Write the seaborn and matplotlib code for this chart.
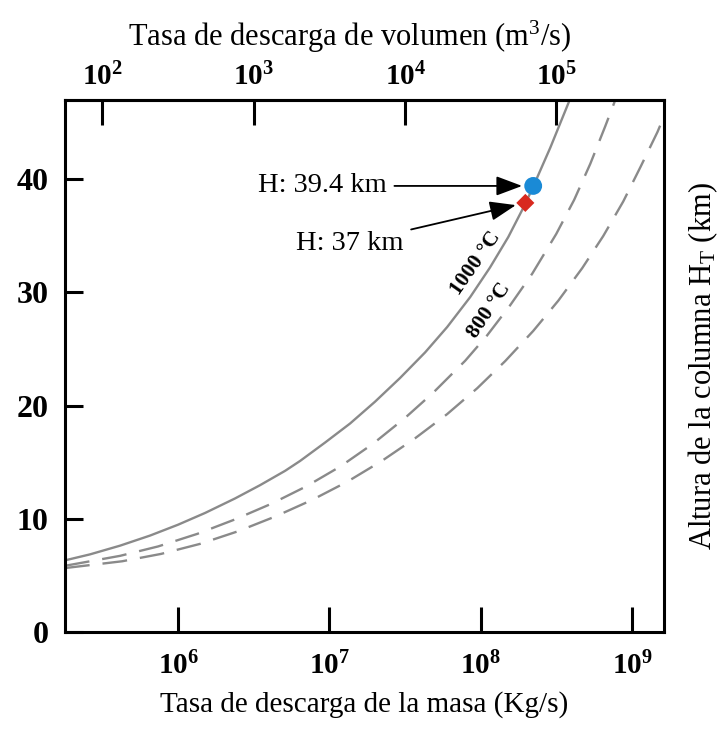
import numpy as np
import pandas as pd
import matplotlib
matplotlib.use("Agg")
import matplotlib.pyplot as plt
import seaborn as sns
from matplotlib.ticker import FixedLocator, NullLocator, FixedFormatter

# ---------------- data ----------------
mass_1000 = [1.79e5, 2.62e5, 4.14e5, 6.53e5, 1.00e6, 1.51e6, 2.38e6, 3.48e6,
             5.10e6, 6.40e6, 9.37e6, 1.37e7, 2.00e7, 2.93e7, 4.29e7, 6.00e7,
             8.51e7, 1.15e8, 1.52e8, 1.97e8, 2.22e8, 2.88e8, 3.87e8]
h_1000 = [6.33, 6.86, 7.63, 8.52, 9.48, 10.52, 11.80, 12.97, 14.24, 15.11,
          16.74, 18.42, 20.34, 22.44, 24.70, 26.94, 29.58, 32.19, 34.89,
          37.82, 39.34, 42.78, 47.0]

mass_800 = [1.79e5, 4.14e5, 7.38e5, 1.34e6, 2.38e6, 4.12e6, 7.02e6, 1.18e7,
            1.95e7, 3.16e7, 4.85e7, 7.89e7, 1.10e8, 1.56e8, 2.19e8, 3.15e8,
            4.14e8, 5.29e8, 6.64e8, 7.61e8, 7.85e8]
h_800 = [5.85, 6.73, 7.56, 8.67, 9.95, 11.32, 12.86, 14.62, 16.65, 18.91,
         21.14, 23.96, 26.19, 28.84, 31.66, 35.15, 38.17, 41.35, 44.66,
         46.73, 47.3]

mass_low = [1.79e5, 4.27e5, 7.72e5, 1.40e6, 2.49e6, 4.38e6, 7.69e6, 1.31e7,
            2.23e7, 3.68e7, 6.00e7, 9.47e7, 1.45e8, 2.22e8, 3.25e8, 4.68e8,
            6.44e8, 8.73e8, 1.14e9, 1.47e9, 1.63e9]
h_low = [5.65, 6.25, 6.90, 7.79, 8.90, 10.20, 11.67, 13.27, 15.13, 17.11,
         19.25, 21.53, 23.93, 26.59, 29.26, 32.14, 34.97, 38.02, 41.12,
         44.16, 45.58]

point_mass = [2.22e8, 1.97e8]
point_h = [39.4, 37.9]
point_labels = ["H: 39.4 km", "H: 37 km"]

mass_ticks = [1e6, 1e7, 1e8, 1e9]
mass_ticklabels = [r"$\mathbf{10^{6}}$", r"$\mathbf{10^{7}}$", r"$\mathbf{10^{8}}$", r"$\mathbf{10^{9}}$"]
vol_ticks = [1e2, 1e3, 1e4, 1e5]
vol_ticklabels = [r"$\mathbf{10^{2}}$", r"$\mathbf{10^{3}}$", r"$\mathbf{10^{4}}$", r"$\mathbf{10^{5}}$"]
h_ticks = [0, 10, 20, 30, 40]
h_ticklabels = ["0", "10", "20", "30", "40"]

MASS_PER_VOLUME = 10 ** 3.5  # conversion between the two axes

# ---------------- style ----------------
sns.set_style("white")
plt.rcParams["font.family"] = ["Liberation Serif", "DejaVu Serif"]
plt.rcParams["mathtext.fontset"] = "custom"
plt.rcParams["mathtext.rm"] = "Liberation Serif"
plt.rcParams["mathtext.it"] = "Liberation Serif:italic"
plt.rcParams["mathtext.bf"] = "Liberation Serif:bold"
for k in ["text.color", "axes.labelcolor", "xtick.color", "ytick.color"]:
    plt.rcParams[k] = "black"

fig = plt.figure(figsize=(7.22, 7.29), dpi=100)
ax = fig.add_axes([0.090, 0.133, 0.830, 0.730])
ax.set_xscale("log")

gray = "#8a8a8a"
sns.lineplot(x=mass_1000, y=h_1000, ax=ax, color=gray, lw=1.7, sort=False, estimator=None)
sns.lineplot(x=mass_800, y=h_800, ax=ax, color=gray, lw=1.7, sort=False, estimator=None)
ax.lines[-1].set_dashes((10.5, 5.5))
sns.lineplot(x=mass_low, y=h_low, ax=ax, color=gray, lw=1.7, sort=False, estimator=None)
ax.lines[-1].set_dashes((10.5, 5.5))

sns.scatterplot(x=[point_mass[0]], y=[point_h[0]], ax=ax, marker="o", s=165,
                color="#1a8ad6", edgecolor="none", zorder=6)
sns.scatterplot(x=[point_mass[1]], y=[point_h[1]], ax=ax, marker="D", s=85,
                color="#d8291f", edgecolor="none", zorder=6)

ax.set_xlim(1.79e5, 1.63e9)
ax.set_ylim(0, 47.0)

# annotations
arrow = dict(arrowstyle="-|>,head_length=0.8,head_width=0.3", color="black",
             lw=1.3, mutation_scale=20, shrinkA=3)
ax.annotate(point_labels[0], xy=(point_mass[0], point_h[0]), xytext=(2.4e7, point_h[0]),
            ha="right", va="center", fontsize=20.5,
            arrowprops=dict(arrow, shrinkB=8))
ax.annotate(point_labels[1], xy=(point_mass[1], point_h[1]), xytext=(3.1e7, 34.3),
            ha="right", va="center", fontsize=20.5,
            arrowprops=dict(arrow, shrinkB=7))

ax.text(9.3e7, 32.6, "1000 °C", rotation=55, ha="center", va="center",
        fontsize=15.5, fontweight="bold", rotation_mode="anchor")
ax.text(1.14e8, 28.4, "800 °C", rotation=56, ha="center", va="center",
        fontsize=15.5, fontweight="bold", rotation_mode="anchor")

# axes formatting
for s in ax.spines.values():
    s.set_linewidth(2.2)
    s.set_color("black")

ax.xaxis.set_major_locator(FixedLocator(mass_ticks))
ax.xaxis.set_major_formatter(FixedFormatter(mass_ticklabels))
ax.xaxis.set_minor_locator(NullLocator())
ax.set_yticks(h_ticks)
ax.set_yticklabels(h_ticklabels, fontweight="bold")
ax.tick_params(axis="x", which="major", direction="in", length=18, width=2.2,
               labelsize=21, pad=14, bottom=True, top=False)
ax.tick_params(axis="y", which="major", direction="in", length=13, width=2.2,
               labelsize=23, pad=12, left=True, right=False)

ax.set_xlabel("Tasa de descarga de la masa (Kg/s)", fontsize=21, labelpad=8)
ax.yaxis.set_label_position("right")
ax.set_ylabel(r"Altura de la columna H$_\mathrm{T}$ (km)", fontsize=22, labelpad=16)

sec = ax.secondary_xaxis("top", functions=(lambda m: m / MASS_PER_VOLUME,
                                            lambda v: v * MASS_PER_VOLUME))
sec.xaxis.set_major_locator(FixedLocator(vol_ticks))
sec.xaxis.set_major_formatter(FixedFormatter(vol_ticklabels))
sec.xaxis.set_minor_locator(NullLocator())
sec.tick_params(axis="x", which="major", direction="in", length=18, width=2.2,
                labelsize=21, pad=6)
sec.spines["top"].set_linewidth(2.2)
sec.set_xlabel(r"Tasa de descarga de volumen (m$^3$/s)", fontsize=22, labelpad=12,
               x=0.475)

fig.savefig("out.png", dpi=100)
